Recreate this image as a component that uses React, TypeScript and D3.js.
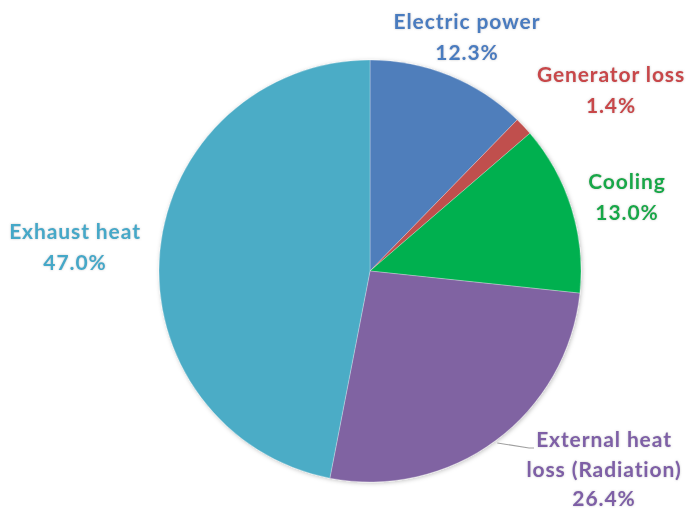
import React from "react";
import * as d3 from "d3";

const categories = ["Electric power", "Generator loss", "Cooling", "External heat loss (Radiation)", "Exhaust heat"];
const values = [12.3, 1.4, 13.0, 26.4, 47.0];
const labelLines = [["Electric power"], ["Generator loss"], ["Cooling"], ["External heat", "loss (Radiation)"], ["Exhaust heat"]];
const sliceColors = ["#4F7EBB", "#C0504D", "#00B050", "#8064A2", "#4BACC6"];
const textColors = ["#4A7BBF", "#C8474A", "#13A84A", "#7E5FA6", "#45A8C8"];
// label anchor (center x, baseline of first line)
const labelPos: [number, number][] = [[467, 29], [611, 82], [627, 189], [604, 447], [75, 239]];
const lineHeights = [31, 30.5, 30.5, 29.5, 31];

const W = 690;
const H = 511;
const cx = 370;
const cy = 271;
const R = 211;

export default function App() {
  const pie = d3.pie<number>().value((d) => d).sort(null);
  const arcs = pie(values);
  const arc = d3.arc<d3.PieArcDatum<number>>().innerRadius(0).outerRadius(R);

  // leader line for the external heat label, from the slice's mid-angle on the rim
  const ext = arcs[3];
  const midA = (ext.startAngle + ext.endAngle) / 2;
  const p0: [number, number] = [cx + Math.sin(midA) * (R + 3), cy - Math.cos(midA) * (R + 3)];

  return (
    <svg width={W} height={H} style={{ position: "absolute", left: 0, top: 0, background: "#fff" }}>
      <defs>
        <filter id="soft" x="-10%" y="-10%" width="120%" height="120%">
          <feDropShadow dx="1" dy="1" stdDeviation="2" floodColor="#000" floodOpacity="0.25" />
        </filter>
        <filter id="glow" x="-10%" y="-30%" width="120%" height="160%">
          <feDropShadow dx="0" dy="0" stdDeviation="0.8" floodColor="#9a9a9a" floodOpacity="0.5" />
        </filter>
      </defs>
      <g transform={`translate(${cx},${cy})`} filter="url(#soft)">
        {arcs.map((a, i) => (
          <path key={categories[i]} d={arc(a) || ""} fill={sliceColors[i]} stroke="#ffffff" strokeOpacity={0.35} strokeWidth={0.8} />
        ))}
      </g>
      <polyline
        points={`${p0[0]},${p0[1]} 529,448 534,448`}
        fill="none"
        stroke="#a0a0a0"
        strokeWidth={1.2}
      />
      {labelLines.map((lines, i) => (
        <text
          key={categories[i]}
          x={labelPos[i][0]}
          y={labelPos[i][1]}
          textAnchor="middle"
          fill={textColors[i]}
          fontFamily="Lato, 'Open Sans', sans-serif"
          fontWeight="bold"
          fontSize={21}
          letterSpacing={0.9}
          filter="url(#glow)"
        >
          {lines.map((l, j) => (
            <tspan key={j} x={labelPos[i][0]} dy={j === 0 ? 0 : lineHeights[i]}>
              {l}
            </tspan>
          ))}
          <tspan x={labelPos[i][0]} dy={lineHeights[i]}>
            {values[i].toFixed(1)}%
          </tspan>
        </text>
      ))}
    </svg>
  );
}
